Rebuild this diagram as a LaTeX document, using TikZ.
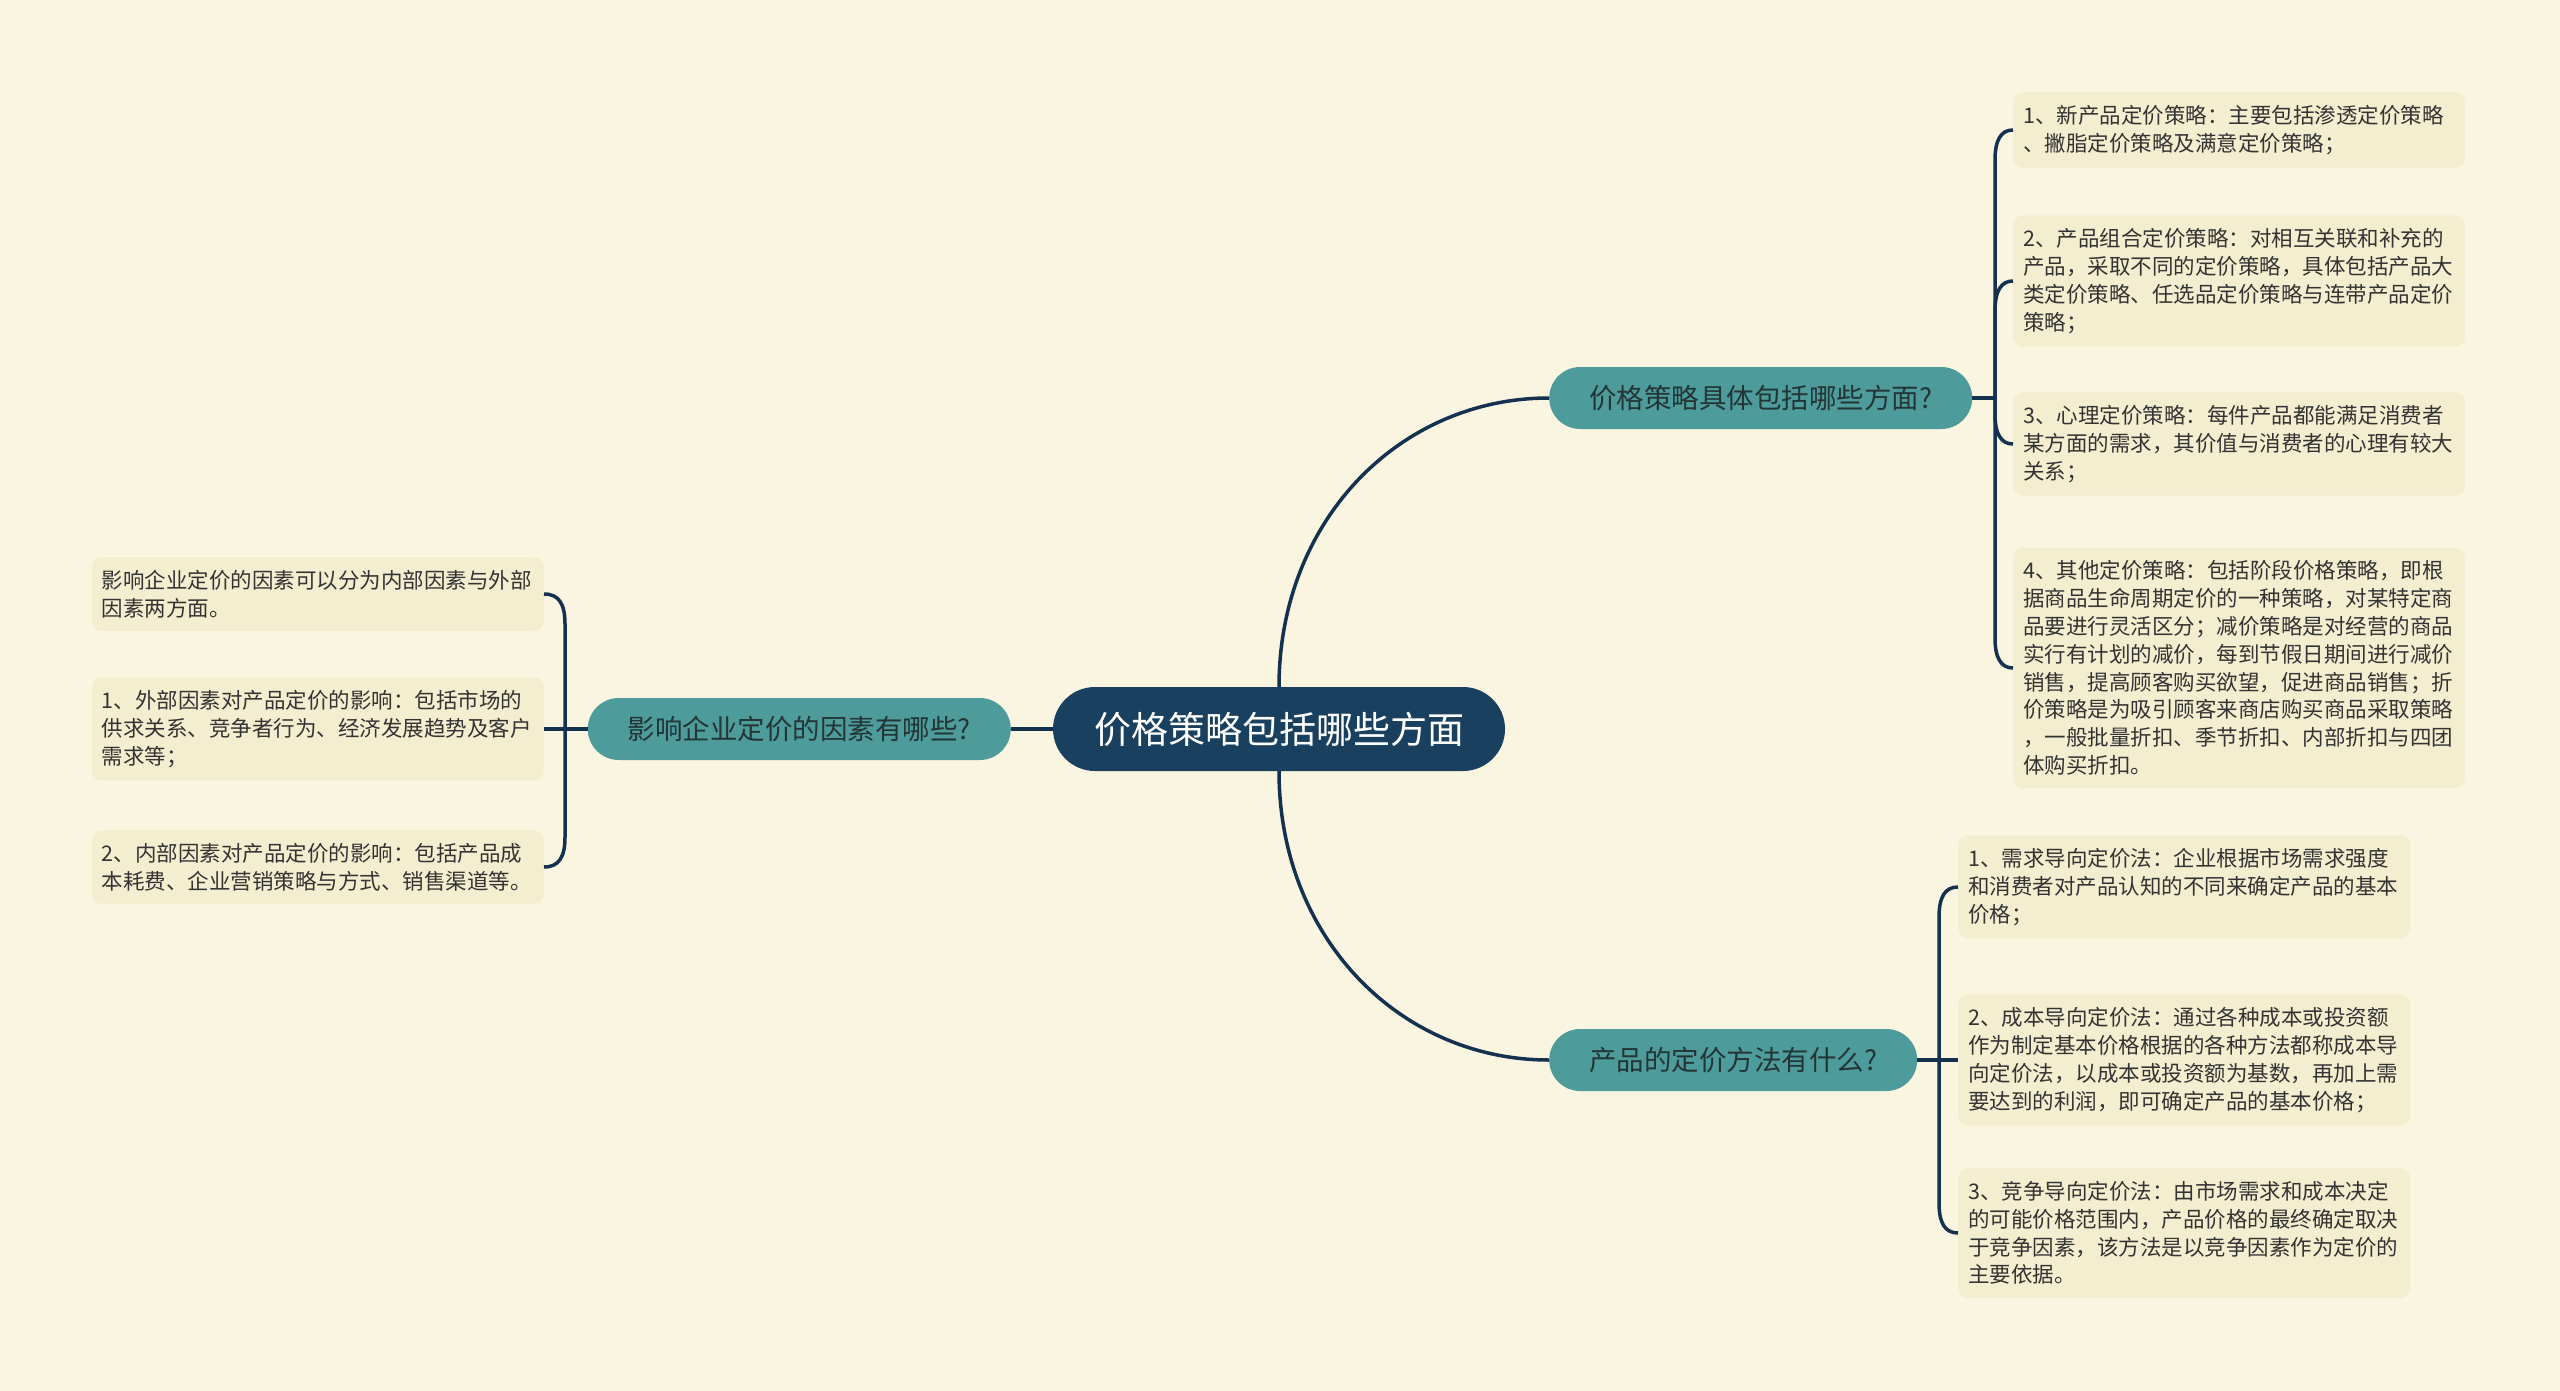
\documentclass[tikz,border=0pt]{standalone}
\usepackage{fontspec}
\setmainfont{Noto Sans CJK SC}
\usetikzlibrary{calc}
\definecolor{bgcol}{HTML}{FAF5E1}
\definecolor{leaffill}{HTML}{F4EED0}
\definecolor{tealnode}{HTML}{4E9B9B}
\definecolor{topictext}{HTML}{233535}
\definecolor{rootfill}{HTML}{19405F}
\definecolor{linecol}{HTML}{14324F}
\definecolor{txt}{HTML}{333333}
\begin{document}
\begin{tikzpicture}[x=1pt,y=-1pt,
  leaf/.style={fill=leaffill, rounded corners=10pt, text width=432pt, inner xsep=10pt, inner ysep=13pt, align=left, font=\fontsize{21.5pt}{27.8pt}\selectfont, text=txt},
  topic/.style={fill=tealnode, rounded corners=31pt, minimum height=62pt, inner xsep=40pt, font=\fontsize{27.5pt}{33pt}\selectfont, text=topictext},
  rootbox/.style={fill=rootfill, rounded corners=42pt, minimum height=84pt, inner xsep=41pt, font=\fontsize{37pt}{43pt}\selectfont, text=white},
  conn/.style={draw=linecol, line width=3.5pt}]
\fill[bgcol] (0,0) rectangle (2560,1391);
\useasboundingbox (0,0) rectangle (2560,1391);

% main nodes
\node[rootbox] (root) at (1279,729) {价格策略包括哪些方面};
\node[topic, anchor=west] (ur) at (1549,398) {价格策略具体包括哪些方面?};
\node[topic, anchor=west] (lr) at (1549,1060) {产品的定价方法有什么?};
\node[topic, anchor=east] (lf) at (1011,729) {影响企业定价的因素有哪些?};

% upper right leaves
\node[leaf, anchor=west] (a1) at (2013,130) {1、新产品定价策略：主要包括渗透定价策略\\、撇脂定价策略及满意定价策略；};
\node[leaf, anchor=west] (a2) at (2013,281) {2、产品组合定价策略：对相互关联和补充的\\产品，采取不同的定价策略，具体包括产品大\\类定价策略、任选品定价策略与连带产品定价\\策略；};
\node[leaf, anchor=west] (a3) at (2013,444) {3、心理定价策略：每件产品都能满足消费者\\某方面的需求，其价值与消费者的心理有较大\\关系；};
\node[leaf, anchor=west] (a4) at (2013,668) {4、其他定价策略：包括阶段价格策略，即根\\据商品生命周期定价的一种策略，对某特定商\\品要进行灵活区分；减价策略是对经营的商品\\实行有计划的减价，每到节假日期间进行减价\\销售，提高顾客购买欲望，促进商品销售；折\\价策略是为吸引顾客来商店购买商品采取策略\\，一般批量折扣、季节折扣、内部折扣与四团\\体购买折扣。};

% lower right leaves
\node[leaf, anchor=west] (b1) at (1958,887) {1、需求导向定价法：企业根据市场需求强度\\和消费者对产品认知的不同来确定产品的基本\\价格；};
\node[leaf, anchor=west] (b2) at (1958,1060) {2、成本导向定价法：通过各种成本或投资额\\作为制定基本价格根据的各种方法都称成本导\\向定价法，以成本或投资额为基数，再加上需\\要达到的利润，即可确定产品的基本价格；};
\node[leaf, anchor=west] (b3) at (1958,1233) {3、竞争导向定价法：由市场需求和成本决定\\的可能价格范围内，产品价格的最终确定取决\\于竞争因素，该方法是以竞争因素作为定价的\\主要依据。};

% left leaves
\node[leaf, anchor=east] (c1) at (544,594) {影响企业定价的因素可以分为内部因素与外部\\因素两方面。};
\node[leaf, anchor=east] (c2) at (544,729) {1、外部因素对产品定价的影响：包括市场的\\供求关系、竞争者行为、经济发展趋势及客户\\需求等；};
\node[leaf, anchor=east] (c3) at (544,867) {2、内部因素对产品定价的影响：包括产品成\\本耗费、企业营销策略与方式、销售渠道等。};

% branch points
\coordinate (sa) at (1995,398);
\coordinate (sb) at (1939,1060);
\coordinate (sc) at (565,729);

% main connectors
\draw[conn] (root.north) .. controls (1279,520) and (1400,398) .. (ur.west);
\draw[conn] (root.south) .. controls (1279,938) and (1400,1060) .. (lr.west);
\draw[conn] (root.west) -- (lf.east);

% upper right bracket
\draw[conn] (ur.east) -- (sa);
\draw[conn] (sa) -- ($(sa |- a1.west)+(0,30)$) .. controls ($(sa |- a1.west)+(0,10)$) and ($(sa |- a1.west)+(6,0)$) .. (a1.west);
\draw[conn] (sa) -- ($(sa |- a2.west)+(0,30)$) .. controls ($(sa |- a2.west)+(0,10)$) and ($(sa |- a2.west)+(6,0)$) .. (a2.west);
\draw[conn] (sa) -- ($(sa |- a3.west)+(0,-30)$) .. controls ($(sa |- a3.west)+(0,-10)$) and ($(sa |- a3.west)+(6,0)$) .. (a3.west);
\draw[conn] (sa) -- ($(sa |- a4.west)+(0,-30)$) .. controls ($(sa |- a4.west)+(0,-10)$) and ($(sa |- a4.west)+(6,0)$) .. (a4.west);

% lower right bracket
\draw[conn] (lr.east) -- (sb);
\draw[conn] (sb) -- ($(sb |- b1.west)+(0,30)$) .. controls ($(sb |- b1.west)+(0,10)$) and ($(sb |- b1.west)+(6,0)$) .. (b1.west);
\draw[conn] (sb) -- (b2.west);
\draw[conn] (sb) -- ($(sb |- b3.west)+(0,-30)$) .. controls ($(sb |- b3.west)+(0,-10)$) and ($(sb |- b3.west)+(6,0)$) .. (b3.west);

% left bracket
\draw[conn] (lf.west) -- (sc);
\draw[conn] (sc) -- ($(sc |- c1.east)+(0,30)$) .. controls ($(sc |- c1.east)+(0,10)$) and ($(sc |- c1.east)+(-6,0)$) .. (c1.east);
\draw[conn] (sc) -- (c2.east);
\draw[conn] (sc) -- ($(sc |- c3.east)+(0,-30)$) .. controls ($(sc |- c3.east)+(0,-10)$) and ($(sc |- c3.east)+(-6,0)$) .. (c3.east);
\end{tikzpicture}
\end{document}
